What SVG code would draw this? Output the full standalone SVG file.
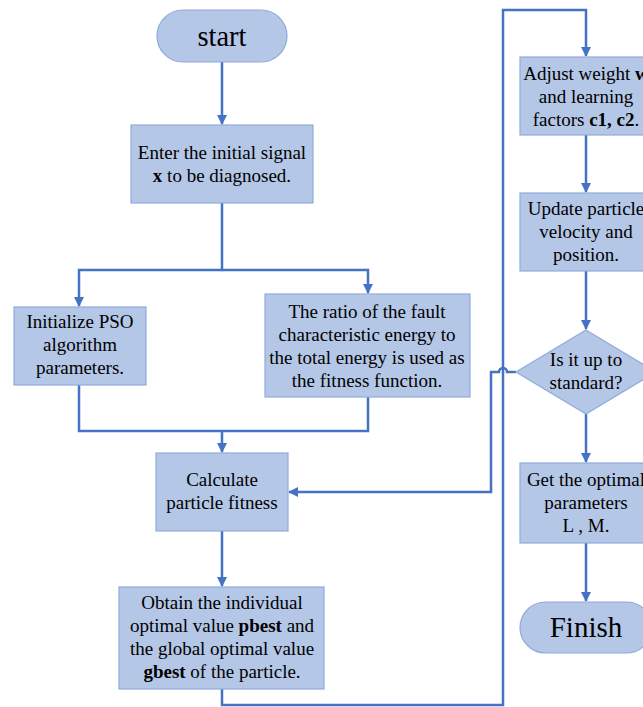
<svg xmlns="http://www.w3.org/2000/svg" width="643" height="707" viewBox="0 0 643 707">
<defs>
<style>
.n{fill:#B4C7E7;stroke:#8FAADC;stroke-width:1.2}
.t{font-family:"Liberation Serif","Times New Roman",serif;font-size:19px;fill:#000;text-anchor:middle}
.c{fill:none;stroke:#4472C4;stroke-width:2.5}
</style>
<marker id="a" viewBox="0 0 10 10" refX="9" refY="5" markerWidth="4" markerHeight="4" orient="auto" markerUnits="strokeWidth">
<path d="M0,0 L10,5 L0,10 z" fill="#4472C4"/>
</marker>
</defs>
<rect width="643" height="707" fill="#fff"/>
<g id="connectors">
<path class="c" d="M222,62 V124" marker-end="url(#a)"/>
<path class="c" d="M222,203 V270 H79 V306" marker-end="url(#a)"/>
<path class="c" d="M222,270 H368 V293" marker-end="url(#a)"/>
<path class="c" d="M79,385 V431 H368 V397"/>
<path class="c" d="M222,431 V452" marker-end="url(#a)"/>
<path class="c" d="M222,531 V586" marker-end="url(#a)"/>
<path class="c" d="M222,689 V705 H503 V10 H586 V56" marker-end="url(#a)"/>
<path class="c" d="M586,135 V192" marker-end="url(#a)"/>
<path class="c" d="M586,271 V329" marker-end="url(#a)"/>
<path class="c" d="M516,372 H507 A4,4 0 0 0 499,372 H491 V492 H289" marker-end="url(#a)"/>
<path class="c" d="M586,414 V462" marker-end="url(#a)"/>
<path class="c" d="M586,543 V601" marker-end="url(#a)"/>
</g>
<g id="start">
<rect class="n" x="157" y="10" width="130" height="52" rx="26"/>
<text class="t" x="222" y="46" style="font-size:28.5px">start</text>
</g>
<g id="enter">
<rect class="n" x="131" y="125" width="182" height="78"/>
<text class="t" x="222" y="159">Enter the initial signal</text>
<text class="t" x="222" y="182"><tspan font-weight="bold">x</tspan> to be diagnosed.</text>
</g>
<g id="init">
<rect class="n" x="14" y="307" width="132" height="78"/>
<text class="t" x="80" y="328">Initialize PSO</text>
<text class="t" x="80" y="351">algorithm</text>
<text class="t" x="80" y="374">parameters.</text>
</g>
<g id="ratio">
<rect class="n" x="265" y="294" width="205" height="103"/>
<text class="t" x="367" y="318">The ratio of the fault</text>
<text class="t" x="367" y="341">characteristic energy to</text>
<text class="t" x="367" y="364">the total energy is used as</text>
<text class="t" x="367" y="387">the fitness function.</text>
</g>
<g id="calc">
<rect class="n" x="156" y="453" width="132" height="78"/>
<text class="t" x="222" y="486">Calculate</text>
<text class="t" x="222" y="509">particle fitness</text>
</g>
<g id="obtain">
<rect class="n" x="119" y="587" width="205" height="102"/>
<text class="t" x="222" y="609">Obtain the individual</text>
<text class="t" x="222" y="632">optimal value <tspan font-weight="bold">pbest</tspan> and</text>
<text class="t" x="222" y="655">the global optimal value</text>
<text class="t" x="222" y="678"><tspan font-weight="bold">gbest</tspan> of the particle.</text>
</g>
<g id="adjust">
<rect class="n" x="520" y="57" width="132" height="78"/>
<text class="t" x="586" y="80">Adjust weight <tspan font-weight="bold">w</tspan></text>
<text class="t" x="586" y="103">and learning</text>
<text class="t" x="586" y="126">factors <tspan font-weight="bold">c1, c2</tspan>.</text>
</g>
<g id="update">
<rect class="n" x="520" y="193" width="132" height="78"/>
<text class="t" x="586" y="215">Update particle</text>
<text class="t" x="586" y="238">velocity and</text>
<text class="t" x="586" y="261">position.</text>
</g>
<g id="decide">
<polygon class="n" points="586,330 656,372 586,414 516,372"/>
<text class="t" x="586" y="366">Is it up to</text>
<text class="t" x="586" y="389">standard?</text>
</g>
<g id="getopt">
<rect class="n" x="520" y="463" width="132" height="80"/>
<text class="t" x="586" y="486">Get the optimal</text>
<text class="t" x="586" y="509">parameters</text>
<text class="t" x="586" y="532">L , M.</text>
</g>
<g id="finish">
<rect class="n" x="520" y="602" width="132" height="51" rx="25.5"/>
<text class="t" x="586" y="637" style="font-size:29px">Finish</text>
</g>
</svg>
